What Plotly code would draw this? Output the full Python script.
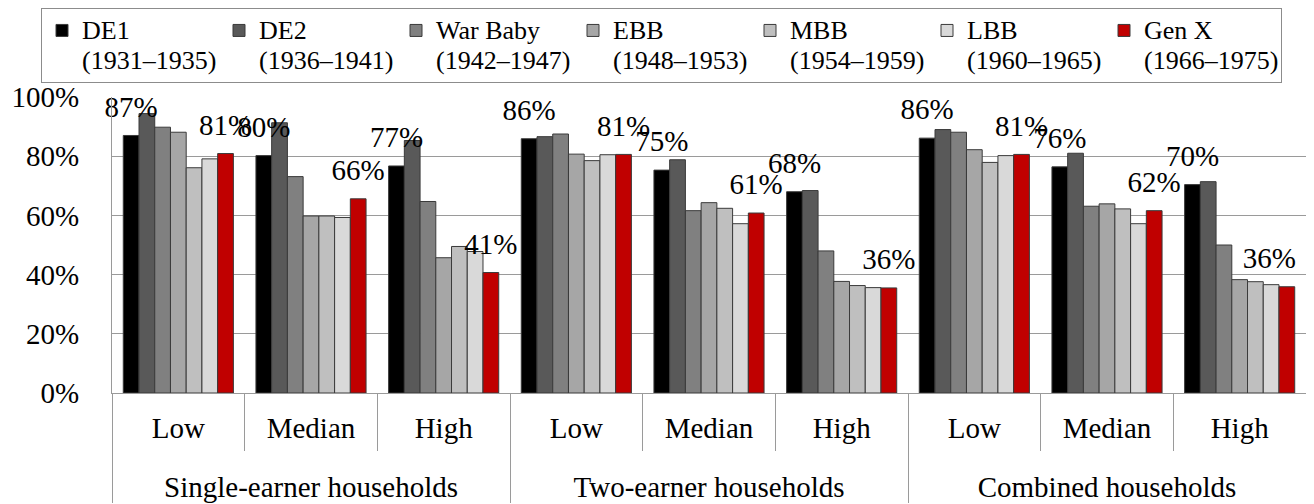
import plotly.graph_objects as go

# Categories
groups = ["Single-earner households"] * 3 + ["Two-earner households"] * 3 + ["Combined households"] * 3
levels = ["Low", "Median", "High"] * 3

# Cohorts (legend)
cohort_names = ["DE1", "DE2", "War Baby", "EBB", "MBB", "LBB", "Gen X"]
cohort_years = ["(1931–1935)", "(1936–1941)", "(1942–1947)", "(1948–1953)",
                "(1954–1959)", "(1960–1965)", "(1966–1975)"]

# Series (share, %)
de1 = [87.0, 80.2, 76.7, 85.9, 75.3, 68.0, 86.1, 76.4, 70.4]
de2 = [94.4, 91.3, 85.3, 86.6, 78.8, 68.4, 89.0, 81.0, 71.4]
war_baby = [89.8, 73.1, 64.7, 87.5, 61.6, 48.0, 88.1, 63.1, 50.0]
ebb = [88.1, 59.8, 45.7, 80.7, 64.3, 37.7, 82.2, 63.9, 38.3]
mbb = [76.1, 59.8, 49.5, 78.5, 62.4, 36.3, 77.9, 62.2, 37.6]
lbb = [79.1, 59.3, 47.8, 80.5, 57.2, 35.6, 80.2, 57.2, 36.6]
gen_x = [80.9, 65.6, 40.7, 80.6, 60.8, 35.5, 80.6, 61.6, 35.9]

series = [de1, de2, war_baby, ebb, mbb, lbb, gen_x]
colors = ["#000000", "#595959", "#808080", "#a6a6a6", "#bfbfbf", "#d9d9d9", "#c00000"]

FONT = "Liberation Serif"
LABEL_PAD = 3.3  # lift of the value labels above the bar ends (axis units)

# page body has an 8px margin, so the figure is a bit smaller than the window
W, H = 1306, 496
L, R, T, B = 104, 8, 89, 111

# the tall hair-spaces push the second label row further down, like the original
pad = '<span style="font-size:60px">\u200a</span>'
x = [groups, [pad + s + pad for s in levels]]

# legend text a bit larger than its line spacing
big = '<span style="font-size:26px">{}</span>'

fig = go.Figure()

for i, (nm, yr, vals, col) in enumerate(zip(cohort_names, cohort_years, series, colors)):
    fig.add_trace(go.Bar(
        x=x, y=vals, name=big.format(nm) + "<br>" + big.format(yr), offsetgroup=str(i),
        marker=dict(color=col, line=dict(color="#3a3a3a", width=1)),
    ))

# value labels for DE1 and Gen X, drawn last so they sit above the bars
for i, vals in [(0, de1), (6, gen_x)]:
    labels = [f"{v:.0f}%" for v in vals]
    if i == 6:
        # last label is nudged left so it stays inside the picture
        labels[-1] += "\u2003\u2009"
    fig.add_trace(go.Bar(
        x=x, y=[LABEL_PAD] * len(vals), base=vals, offsetgroup=str(i), showlegend=False,
        marker=dict(color="rgba(0,0,0,0)", line=dict(width=0)),
        text=labels,
        textposition="outside", constraintext="none", cliponaxis=False,
        textfont=dict(size=29, color="#000000", family=FONT),
        hoverinfo="skip",
    ))

plot_w, plot_h = W - L - R, H - T - B
fig.update_layout(
    width=W, height=H,
    margin=dict(l=L, r=R, t=T, b=B, autoexpand=False),
    barmode="group", bargap=0.17, bargroupgap=0,
    plot_bgcolor="white", paper_bgcolor="white",
    font=dict(family=FONT, size=29, color="#000000"),
    legend=dict(
        orientation="h",
        x=(33 - L) / plot_w, y=(H - B) / plot_h, xanchor="left", yanchor="top",
        entrywidth=132, entrywidthmode="pixels", valign="top",
        bordercolor="#8c8c8c", borderwidth=1,
        font=dict(size=23, family=FONT, color="#000000"),
    ),
)

fig.update_xaxes(
    type="multicategory",
    showline=True, linecolor="#9a9a9a", linewidth=1,
    ticks="outside", tickson="boundaries", ticklen=57, tickcolor="#9a9a9a",
    showdividers=True, dividercolor="#9a9a9a", dividerwidth=1,
    ticklabelstandoff=9,
    tickfont=dict(size=29, family=FONT, color="#000000"),
)
fig.update_yaxes(
    range=[0, 100], dtick=20, ticksuffix="%",
    showgrid=True, gridcolor="#9a9a9a", gridwidth=1,
    showline=True, linecolor="#9a9a9a", linewidth=1,
    zeroline=False, ticklabelstandoff=26,
    tickfont=dict(size=29, family=FONT, color="#000000"),
)

fig.write_html("out.html")
